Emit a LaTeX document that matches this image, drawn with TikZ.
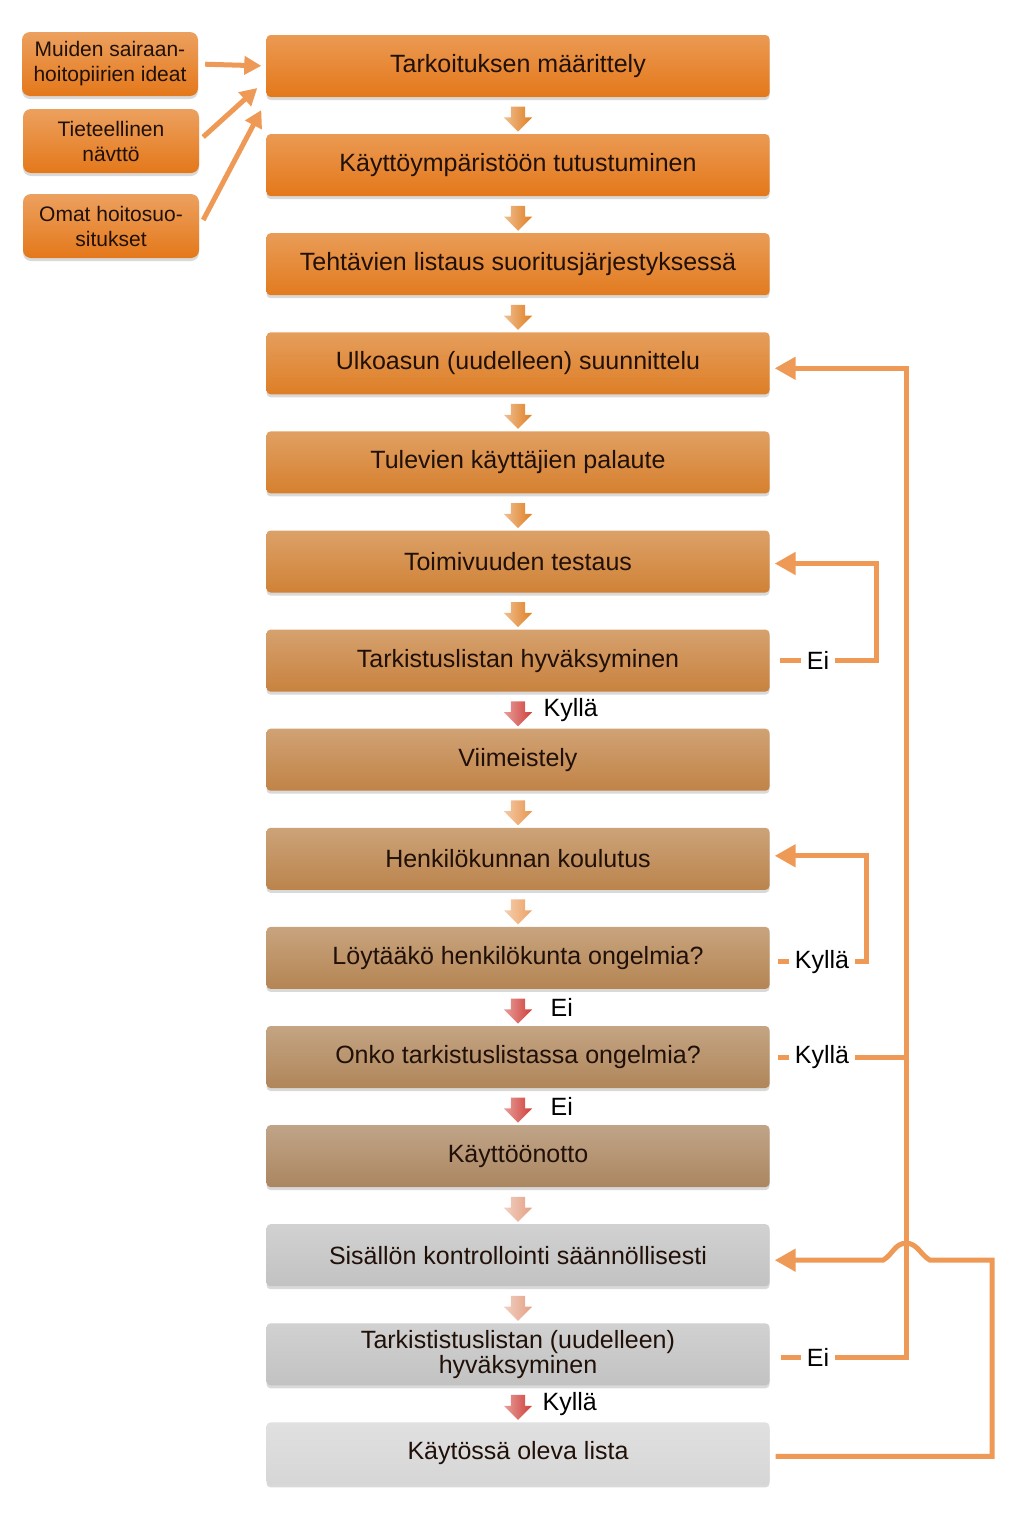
\documentclass[tikz,border=0pt]{standalone}
\usepackage{fontspec}
\setmainfont{Liberation Sans}
\usetikzlibrary{positioning,calc,shapes.arrows,shadows,arrows.meta}

\definecolor{txt}{HTML}{201008}
\definecolor{loopc}{HTML}{EE9A56}
\definecolor{b1}{HTML}{E4781A}
\definecolor{b2}{HTML}{E27B1F}
\definecolor{b3}{HTML}{DD7E26}
\definecolor{b4}{HTML}{D6802E}
\definecolor{b5}{HTML}{D08236}
\definecolor{b6}{HTML}{C8823E}
\definecolor{b7}{HTML}{C18346}
\definecolor{b8}{HTML}{BB844C}
\definecolor{b9}{HTML}{B58553}
\definecolor{b10}{HTML}{B0865A}
\definecolor{b11}{HTML}{AB8660}
\definecolor{g1}{HTML}{C2C2C2}
\definecolor{g2}{HTML}{D6D6D6}
\definecolor{orA}{HTML}{E07E22}
\definecolor{orB}{HTML}{E8954E}
\definecolor{orC}{HTML}{ECA062}
\definecolor{pkA}{HTML}{E4A084}
\definecolor{rdA}{HTML}{CF3E38}

\begin{document}
\begin{tikzpicture}[x=1pt,y=-1pt,
		stage/.style={rectangle,rounded corners=4pt,minimum width=503pt,minimum height=62pt,
			top color=#1!75!white,bottom color=#1,text=txt,align=center,
			font=\fontsize{25}{27}\selectfont,
			drop shadow={shadow xshift=0pt,shadow yshift=-3pt,opacity=0.3}},
		side/.style={rectangle,rounded corners=8pt,minimum width=176pt,minimum height=64pt,
			top color=b1!70!white,bottom color=b1,text=txt,align=center,
			font=\fontsize{21}{25}\selectfont,
			drop shadow={shadow xshift=0pt,shadow yshift=-3pt,opacity=0.3}},
		flow/.style={single arrow,shape border rotate=270,minimum height=25pt,inner sep=7pt,
			single arrow head extend=7pt,left color=#1!50!white,right color=#1},
		note/.style={font=\fontsize{25}{27}\selectfont,text=black,inner sep=0pt},
		tag/.style={note,fill=white,inner sep=6pt},
		loop/.style={draw=loopc,line width=5pt},
		head/.style={loop,-{Triangle[length=21pt,width=22pt]},shorten >=5pt}]
	\useasboundingbox (0,0) rectangle (1024,1515);

	\node[stage=b1]								(t1)	at (518,66)	{Tarkoituksen määrittely};
	\node[stage=b1,node distance=36.7pt,below=of t1]	(t2)	{Käyttöympäristöön tutustuminen};
	\node[stage=b2,node distance=36.7pt,below=of t2]	(t3)	{Tehtävien listaus suoritusjärjestyksessä};
	\node[stage=b3,node distance=36.7pt,below=of t3]	(t4)	{Ulkoasun (uudelleen) suunnittelu};
	\node[stage=b4,node distance=36.7pt,below=of t4]	(t5)	{Tulevien käyttäjien palaute};
	\node[stage=b5,node distance=36.7pt,below=of t5]	(t6)	{Toimivuuden testaus};
	\node[stage=b6,node distance=36.7pt,below=of t6]	(t7)	{Tarkistuslistan hyväksyminen};
	\node[stage=b7,node distance=36.7pt,below=of t7]	(t8)	{Viimeistely};
	\node[stage=b8,node distance=36.7pt,below=of t8]	(t9)	{Henkilökunnan koulutus};
	\node[stage=b9,node distance=36.7pt,below=of t9]	(t10)	{Löytääkö henkilökunta ongelmia?};
	\node[stage=b10,node distance=36.7pt,below=of t10]	(t11)	{Onko tarkistuslistassa ongelmia?};
	\node[stage=b11,node distance=36.7pt,below=of t11]	(t12)	{Käyttöönotto};
	\node[stage=g1,node distance=36.7pt,below=of t12]	(t13)	{Sisällön kontrollointi säännöllisesti};
	\node[stage=g1,node distance=36.7pt,below=of t13]	(t14)	{Tarkististuslistan (uudelleen)\\[-2pt]hyväksyminen};
	\node[stage=g2,node distance=36.7pt,below=of t14]	(t15)	{Käytössä oleva lista};

	\node[side]	(m1)	at (110,64)	{Muiden sairaan-\\hoitopiirien ideat};
	\node[side]	(m2)	at (111,141)	{Tieteellinen\\nävttö};
	\node[side]	(m3)	at (111,226)	{Omat hoitosuo-\\situkset};

	\node[flow=orA]	(a1)	at ($(t1)!.5!(t2)$)	{};
	\node[flow=orA]	(a2)	at ($(t2)!.5!(t3)$)	{};
	\node[flow=orA]	(a3)	at ($(t3)!.5!(t4)$)	{};
	\node[flow=orA]	(a4)	at ($(t4)!.5!(t5)$)	{};
	\node[flow=orA]	(a5)	at ($(t5)!.5!(t6)$)	{};
	\node[flow=orA]	(a6)	at ($(t6)!.5!(t7)$)	{};
	\node[flow=rdA]	(a7)	at ($(t7)!.5!(t8)$)	{};
	\node[flow=orB]	(a8)	at ($(t8)!.5!(t9)$)	{};
	\node[flow=orC]	(a9)	at ($(t9)!.5!(t10)$)	{};
	\node[flow=rdA]	(a10)	at ($(t10)!.5!(t11)$)	{};
	\node[flow=rdA]	(a11)	at ($(t11)!.5!(t12)$)	{};
	\node[flow=pkA]	(a12)	at ($(t12)!.5!(t13)$)	{};
	\node[flow=pkA]	(a13)	at ($(t13)!.5!(t14)$)	{};
	\node[flow=rdA]	(a14)	at ($(t14)!.5!(t15)$)	{};

	\node[note,right=18pt of a7]	(y7)	{Kyllä};
	\node[note,right=25pt of a10]	(n10)	{Ei};
	\node[note,right=25pt of a11]	(n11)	{Ei};
	\node[note,right=17pt of a14]	(y14)	{Kyllä};

	% side inputs
	\draw[loop,-{Triangle[length=17pt,width=18pt]},shorten <=7pt,shorten >=5pt] (m1.east) -- (t1.west);
	\draw[loop,-{Triangle[length=17pt,width=18pt]}] ([xshift=4pt,yshift=4pt]m2.east) -- ([xshift=-9pt,yshift=-22pt]t1.west);
	\draw[loop,-{Triangle[length=17pt,width=18pt]}] ([xshift=4pt,yshift=6pt]m3.east) -- ([xshift=-5pt,yshift=-44pt]t1.west);

	% feedback loops
	\coordinate (r1) at (906,0);
	\coordinate (r2) at (876,0);
	\coordinate (r3) at (866,0);
	\coordinate (r4) at (992,0);
	\coordinate (l4) at ([yshift=-5pt]t4.east);
	\coordinate (l6) at ([yshift=-2pt]t6.east);
	\coordinate (l9) at ([yshift=3pt]t9.east);
	\coordinate (l13) at ([yshift=-5pt]t13.east);

	\node[tag]	(e7)	at (t7.east -| 818,0)	{Ei};
	\node[tag]	(k10)	at ([yshift=-4pt]t10.east -| 822,0)	{Kyllä};
	\node[tag]	(k11)	at (t11.east -| 822,0)	{Kyllä};
	\node[tag]	(e14)	at ([yshift=-3pt]t14.east -| 818,0)	{Ei};

	\draw[loop] ([xshift=10pt]t7.east |- e7) -- (e7.west);
	\draw[head] (e7.east) -| (r2 |- l6) -- (l6);

	\draw[loop] ([xshift=8pt]t10.east |- k10) -- (k10.west);
	\draw[head] (k10.east) -| (r3 |- l9) -- (l9);

	\draw[loop] ([xshift=8pt]t11.east |- k11) -- (k11.west);
	\draw[loop] ([xshift=11pt]t14.east |- e14) -- (e14.west);
	\draw[loop] (k11.east) -- (r1 |- k11);
	\draw[head] (e14.east) -| (r1 |- l4) -- (l4);

	\draw[head] ([xshift=6pt,yshift=-3pt]t15.east) -| (r4 |- l13) -- ([xshift=24pt]r1 |- l13)
		to[out=150,in=0] ([yshift=17pt]r1 |- l13) to[out=180,in=30] ([xshift=-23pt]r1 |- l13) -- (l13);
\end{tikzpicture}
\end{document}
